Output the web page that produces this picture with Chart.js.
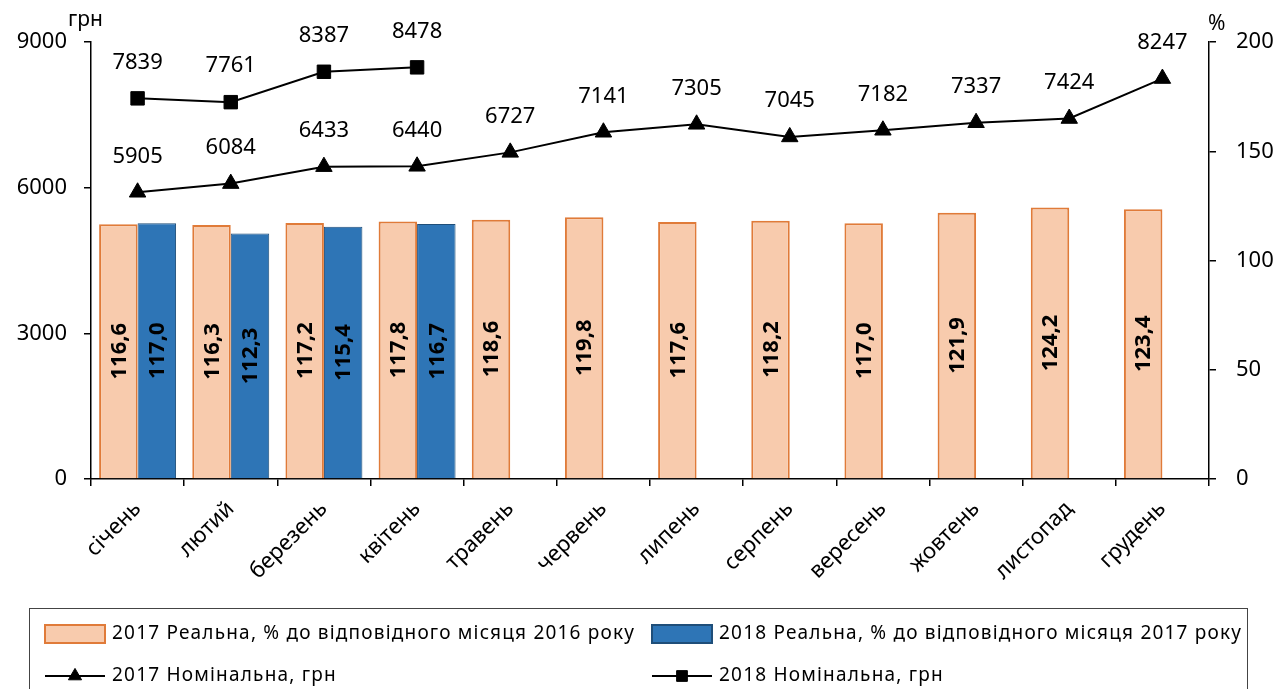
<!DOCTYPE html>
<html>
<head>
<meta charset="utf-8">
<title>Заробітна плата</title>
<script src="https://cdn.jsdelivr.net/npm/chart.js@4.4.1/dist/chart.umd.min.js"></script>
<style>
  html, body { margin: 0; padding: 0; background: #fff; }
  #wrap { width: 1279px; height: 689px; position: relative; }
</style>
</head>
<body>
<div id="wrap"><canvas id="c" width="1279" height="689"></canvas></div>
<script>
// ---- data ----
const months = ['січень', 'лютий', 'березень', 'квітень', 'травень', 'червень',
                'липень', 'серпень', 'вересень', 'жовтень', 'листопад', 'грудень'];
const real2017 = [116.6, 116.3, 117.2, 117.8, 118.6, 119.8, 117.6, 118.2, 117.0, 121.9, 124.2, 123.4];
const real2018 = [117.0, 112.3, 115.4, 116.7, null, null, null, null, null, null, null, null];
const nominal2017 = [5905, 6084, 6433, 6440, 6727, 7141, 7305, 7045, 7182, 7337, 7424, 8247];
const nominal2018 = [7839, 7761, 8387, 8478, null, null, null, null, null, null, null, null];
const uahTicks = [0, 3000, 6000, 9000];
const pctTicks = [0, 50, 100, 150, 200];

const legendNames = [
  '2017 Реальна, % до відповідного місяця 2016 року',
  '2018 Реальна, % до відповідного місяця 2017 року',
  '2017 Номінальна, грн',
  '2018 Номінальна, грн'
];

const FONT = "'Noto Sans', 'Open Sans', sans-serif";
const ORANGE_FILL = '#F8CBAD', ORANGE_EDGE = '#E07B39';
const BLUE_FILL = '#2E75B6', BLUE_EDGE = '#1F4E79';

const fmtPct = v => v.toFixed(1).replace('.', ',');

// value labels for lines (above points) and bars (rotated, centred)
const valueLabels = {
  id: 'valueLabels',
  afterDatasetsDraw(chart) {
    const ctx = chart.ctx;
    chart.data.datasets.forEach((ds, di) => {
      const meta = chart.getDatasetMeta(di);
      if (meta.hidden) return;
      meta.data.forEach((el, i) => {
        const v = ds.data[i];
        if (v == null) return;
        ctx.save();
        ctx.fillStyle = '#000';
        ctx.textAlign = 'center';
        ctx.textBaseline = 'middle';
        if (ds.type === 'line') {
          ctx.font = `22px ${FONT}`;
          ctx.fillText(String(v), el.x, el.y - 36);
        } else {
          ctx.font = `bold 22px ${FONT}`;
          ctx.translate(el.x, (el.y + el.base) / 2);
          ctx.rotate(-Math.PI / 2);
          ctx.fillText(fmtPct(v), 0, 1);
        }
        ctx.restore();
      });
    });
  }
};

// unit captions above the two value axes
const unitCaptions = {
  id: 'unitCaptions',
  afterDraw(chart) {
    const ctx = chart.ctx;
    const a = chart.chartArea;
    ctx.save();
    ctx.fillStyle = '#000';
    ctx.font = `21px ${FONT}`;
    ctx.textBaseline = 'middle';
    ctx.textAlign = 'left';
    ctx.fillText('грн', a.left - 23, a.top - 22);
    ctx.fillText('%', a.right - 1, a.top - 18);
    ctx.restore();
  }
};

// boxed two-column legend beneath the axis
const boxLegend = {
  id: 'boxLegend',
  afterDraw(chart) {
    const ctx = chart.ctx;
    const boxL = 29.5, boxT = 608.5, boxR = 1247.5;
    ctx.save();
    ctx.strokeStyle = '#444';
    ctx.lineWidth = 1;
    ctx.strokeRect(boxL, boxT, boxR - boxL, 200);

    const cols = [45, 652];
    const rows = [634, 676];
    ctx.textBaseline = 'middle';
    ctx.textAlign = 'left';

    const ds = chart.data.datasets;
    ds.forEach((d, k) => {
      const x = cols[k % 2], y = rows[Math.floor(k / 2)];
      if (d.type === 'line') {
        ctx.strokeStyle = '#000';
        ctx.lineWidth = 2;
        ctx.beginPath();
        ctx.moveTo(x, y); ctx.lineTo(x + 60, y);
        ctx.stroke();
        ctx.fillStyle = '#000';
        ctx.strokeStyle = '#000';
        ctx.lineWidth = 1;
        Chart.helpers.drawPoint(ctx, {
          pointStyle: d.pointStyle, radius: d.pointRadius * 0.8, borderWidth: 1
        }, x + 30, y);
      } else {
        ctx.fillStyle = d.backgroundColor;
        ctx.fillRect(x, y - 9, 60, 18);
        ctx.strokeStyle = d.borderColor;
        ctx.lineWidth = 2;
        ctx.strokeRect(x, y - 9, 60, 18);
      }
      ctx.fillStyle = '#000';
      ctx.font = `19px ${FONT}`;
      ctx.letterSpacing = '1.2px';
      ctx.fillText(legendNames[k], x + 67, y);
      ctx.letterSpacing = '0px';
    });
    ctx.restore();
  }
};

new Chart(document.getElementById('c'), {
  data: {
    labels: months,
    datasets: [
      {
        type: 'bar', label: legendNames[0], data: real2017, yAxisID: 'yR', order: 2,
        backgroundColor: ORANGE_FILL, borderColor: ORANGE_EDGE, borderWidth: 2,
        barPercentage: 1, categoryPercentage: 0.826
      },
      {
        type: 'bar', label: legendNames[1], data: real2018, yAxisID: 'yR', order: 2,
        backgroundColor: BLUE_FILL, borderColor: BLUE_EDGE, borderWidth: 1,
        barPercentage: 1, categoryPercentage: 0.826
      },
      {
        type: 'line', label: legendNames[2], data: nominal2017, yAxisID: 'yL', order: 0,
        borderColor: '#000', borderWidth: 2, pointStyle: 'triangle', pointRadius: 9.5,
        pointBackgroundColor: '#000', pointBorderColor: '#000', pointBorderWidth: 1
      },
      {
        type: 'line', label: legendNames[3], data: nominal2018, yAxisID: 'yL', order: 0,
        borderColor: '#000', borderWidth: 2, pointStyle: 'rect', pointRadius: 9.5,
        pointBackgroundColor: '#000', pointBorderColor: '#000', pointBorderWidth: 1
      }
    ]
  },
  options: {
    responsive: false,
    animation: false,
    devicePixelRatio: 1,
    layout: { padding: { top: 42, bottom: 100, left: 0, right: 0 } },
    plugins: { legend: { display: false }, tooltip: { enabled: false } },
    scales: {
      x: {
        type: 'category',
        offset: true,
        grid: { offset: true, drawOnChartArea: false, color: '#000', lineWidth: 1.5, tickLength: 7 },
        border: { color: '#000', width: 1.5 },
        ticks: { color: '#000', font: { family: FONT, size: 22 }, minRotation: 45, maxRotation: 45, autoSkip: false, padding: 10 },
        afterFit: s => { s.height = 110; }
      },
      yL: {
        position: 'left', min: 0, max: 9000,
        afterBuildTicks: s => { s.ticks = uahTicks.map(v => ({ value: v })); },
        grid: { drawOnChartArea: false, color: '#000', lineWidth: 1.5, tickLength: 7 },
        border: { color: '#000', width: 1.5 },
        ticks: { color: '#000', font: { family: FONT, size: 22 }, padding: 17, callback: v => String(v) },
        afterFit: s => { s.width = 91; }
      },
      yR: {
        position: 'right', min: 0, max: 200,
        afterBuildTicks: s => { s.ticks = pctTicks.map(v => ({ value: v })); },
        grid: { drawOnChartArea: false, color: '#000', lineWidth: 1.5, tickLength: 7 },
        border: { color: '#000', width: 1.5 },
        ticks: { color: '#000', font: { family: FONT, size: 22 }, padding: 20, callback: v => String(v) },
        afterFit: s => { s.width = 70; }
      }
    }
  },
  plugins: [valueLabels, unitCaptions, boxLegend]
});
</script>
</body>
</html>
